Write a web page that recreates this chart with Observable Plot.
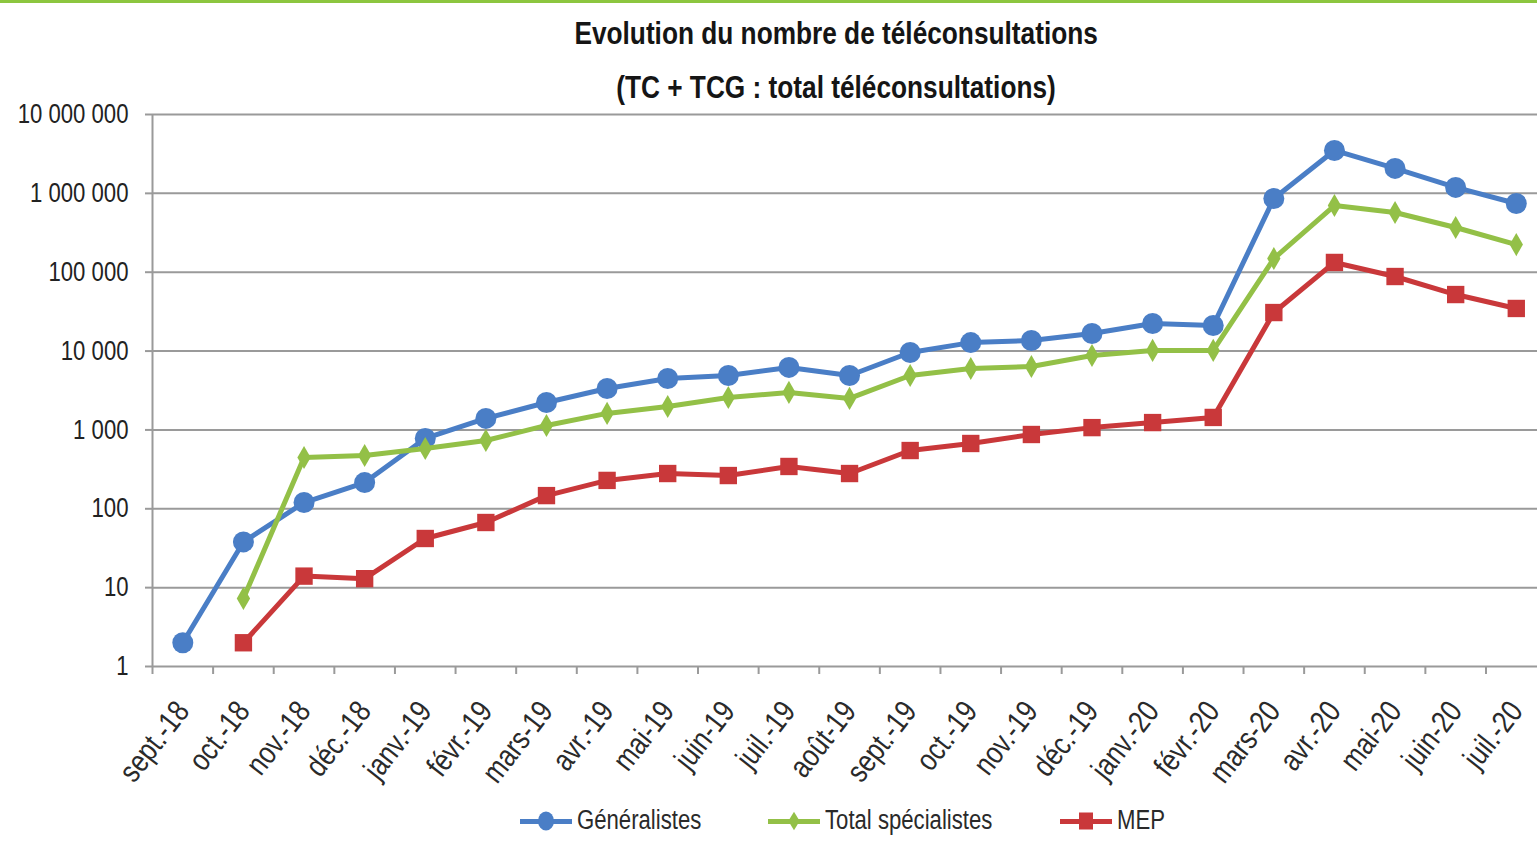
<!DOCTYPE html>
<html>
<head>
<meta charset="utf-8">
<script src="https://cdn.jsdelivr.net/npm/d3@7"></script>
<script src="https://cdn.jsdelivr.net/npm/@observablehq/plot@0.6"></script>
<style>
  html, body { margin: 0; padding: 0; background: #fff; overflow: hidden; }
  body { width: 1537px; height: 841px; font-family: 'Liberation Sans', Arial, sans-serif; }
  #title {
    box-sizing: border-box; height: 100px; border-top: 3px solid #8cc63f;
    padding: 3px 0 0 136px; text-align: center; font-weight: bold; font-size: 32px;
    line-height: 54px; color: #151515; overflow: visible; position: relative; z-index: 2;
  }
  #title span { display: inline-block; transform: scaleX(0.82); transform-origin: center; white-space: nowrap; }
  #chart { height: 700px; position: relative; z-index: 1; }
  #legend { height: 41px; display: flex; align-items: center; padding-left: 520px; gap: 67px; font-size: 27px; color: #2a2a2a; }
  .item { display: flex; align-items: center; }
  .sw { position: relative; width: 52px; height: 20px; margin-right: 5px; }
  .sw .ln { position: absolute; left: 0; right: 0; top: 8px; height: 5px; }
  .sw .mk { position: absolute; left: 50%; top: 50%; }
  .lt { display: inline-block; transform: scaleX(0.82); transform-origin: left center; white-space: nowrap; }
</style>
</head>
<body>
<div id="title"><span>Evolution du nombre de téléconsultations</span><br><span>(TC + TCG : total téléconsultations)</span></div>
<div id="chart"></div>
<div id="legend"></div>
<script>
const months = ["sept.-18","oct.-18","nov.-18","déc.-18","janv.-19","févr.-19","mars-19","avr.-19","mai-19","juin-19","juil.-19","août-19","sept.-19","oct.-19","nov.-19","déc.-19","janv.-20","févr.-20","mars-20","avr.-20","mai-20","juin-20","juil.-20"];
const generalistes = [2,38,120,215,780,1400,2230,3350,4490,4900,6200,4900,9600,12800,13600,16700,22400,21100,860000,3500000,2070000,1190000,743000];
const specialistes = [null,7.3,447,474,581,734,1140,1620,1980,2580,2990,2510,4900,6000,6370,8790,10200,10200,149000,701000,571000,369000,224000];
const mep = [null,2,14,13,42,67,147,229,280,264,344,280,548,673,875,1070,1240,1440,30800,133000,88200,52100,34700];
const seriesNames = ["Généralistes","Total spécialistes","MEP"];
const seriesColors = ["#4a7ec6","#93c047","#c9383a"];
const yTicks = [1,10,100,1000,10000,100000,1000000,10000000];
const yTickLabels = ["1","10","100","1 000","10 000","100 000","1 000 000","10 000 000"];

const seriesValues = [generalistes, specialistes, mep];
const rows = [];
seriesValues.forEach((vals, s) => vals.forEach((v, i) => {
  if (v != null) rows.push({i, month: months[i], value: v, series: seriesNames[s]});
}));
const idx = months.map((_, i) => i);
const boundaries = idx.map(i => i - 0.5);

const symbols = ["circle", "diamond", "square"];
const radii = [10.5, 7, 9.8];

const marks = [
  Plot.gridY(yTicks, {stroke: "#9a9a9a", strokeOpacity: 1, strokeWidth: 2}),
  Plot.ruleX([-0.5], {stroke: "#9a9a9a", strokeWidth: 2}),
  Plot.axisY(yTicks, {label: null, tickSize: 7, tickPadding: 17, stroke: "#9a9a9a", strokeWidth: 2, fontSize: 27, fill: "#222",
    tickFormat: d => yTickLabels[yTicks.indexOf(d)]}),
  Plot.axisX(boundaries, {label: null, tickSize: 8, stroke: "#9a9a9a", strokeWidth: 2, tickFormat: () => ""}),
  Plot.axisX(idx, {label: null, tickSize: 0, tickPadding: 39, tickRotate: -52, fontSize: 31, fill: "#2a2a2a",
    tickFormat: i => months[i]})
];
seriesNames.forEach((name, s) => {
  const d = rows.filter(r => r.series === name);
  marks.push(Plot.line(d, {x: "i", y: "value", stroke: seriesColors[s], strokeWidth: 5, strokeLinejoin: "round"}));
  marks.push(Plot.dot(d, {x: "i", y: "value", symbol: symbols[s], r: radii[s], fill: seriesColors[s], stroke: null}));
});

const chart = Plot.plot({
  width: 1537,
  height: 700,
  marginLeft: 152,
  marginRight: 0,
  marginTop: 14,
  marginBottom: 134,
  style: {fontFamily: "'Liberation Sans', Arial, sans-serif", background: "transparent", overflow: "visible"},
  x: {type: "linear", domain: [-0.5, 22.35], axis: null},
  y: {type: "log", domain: [1, 10000000], axis: null},
  marks
});
document.getElementById("chart").append(chart);

// narrow the glyphs along their baseline, like the condensed font of the reference
chart.querySelectorAll("text").forEach(t => {
  const L = t.getComputedTextLength();
  if (L > 0) {
    t.setAttribute("textLength", (L * 0.82).toFixed(1));
    t.setAttribute("lengthAdjust", "spacingAndGlyphs");
  }
});

const legend = document.getElementById("legend");
seriesNames.forEach((name, s) => {
  const item = document.createElement("div");
  item.className = "item";
  const sw = document.createElement("div");
  sw.className = "sw";
  const ln = document.createElement("div");
  ln.className = "ln"; ln.style.background = seriesColors[s];
  const mk = document.createElement("div");
  mk.className = "mk"; mk.style.background = seriesColors[s];
  if (s === 0) { mk.style.width = "16px"; mk.style.height = "19px"; mk.style.borderRadius = "50%"; mk.style.transform = "translate(-50%,-50%)"; }
  if (s === 1) { mk.style.width = "10px"; mk.style.height = "10px"; mk.style.transform = "translate(-50%,-50%) scale(0.8,1.3) rotate(45deg)"; }
  if (s === 2) { mk.style.width = "14px"; mk.style.height = "17px"; mk.style.transform = "translate(-50%,-50%)"; }
  sw.append(ln, mk);
  const tx = document.createElement("span");
  tx.className = "lt";
  tx.textContent = name;
  item.append(sw, tx);
  legend.append(item);
  const w = tx.getBoundingClientRect().width / 0.82;
  tx.style.marginRight = (-(w * 0.18)).toFixed(1) + "px";
});
</script>
</body>
</html>
